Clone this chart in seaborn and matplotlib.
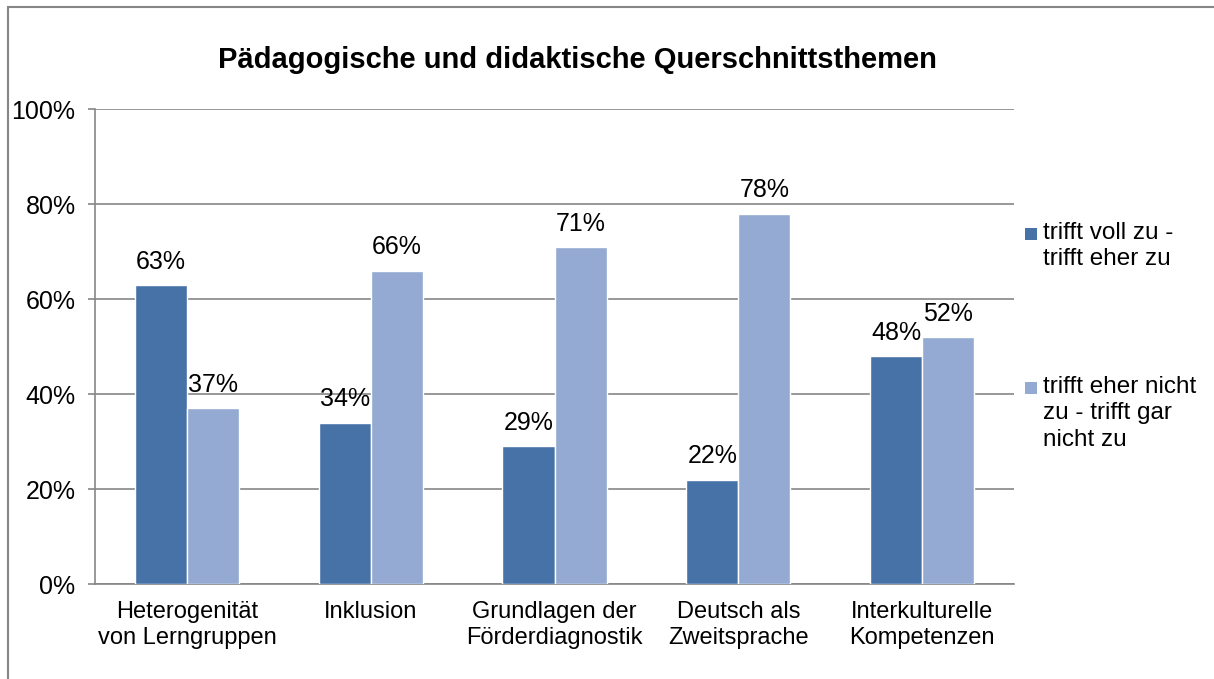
import pandas as pd
import numpy as np
import matplotlib
matplotlib.use("Agg")
import matplotlib.pyplot as plt
from matplotlib.patches import Rectangle
from matplotlib.ticker import FixedLocator, PercentFormatter
import seaborn as sns

# data
categories = [
    "Heterogenität\nvon Lerngruppen",
    "Inklusion",
    "Grundlagen der\nFörderdiagnostik",
    "Deutsch als\nZweitsprache",
    "Interkulturelle\nKompetenzen",
]
series_names = [
    "trifft voll zu -\ntrifft eher zu",
    "trifft eher nicht\nzu - trifft gar\nnicht zu",
]
agree = [63, 34, 29, 22, 48]
disagree = [37, 66, 71, 78, 52]

colors = ["#4672A8", "#94AAD2"]
grid_color = "#868686"

df = pd.DataFrame({
    "Thema": categories * 2,
    "Antwort": [series_names[0]] * len(categories) + [series_names[1]] * len(categories),
    "Anteil": agree + disagree,
})

sns.set_theme(style="white")
plt.rcParams["font.family"] = ["Liberation Sans", "DejaVu Sans"]
plt.rcParams["text.color"] = "black"

fig = plt.figure(figsize=(12.14, 6.79), dpi=100)
ax = fig.add_axes([95 / 1214, 1 - 584 / 679, 919 / 1214, 475 / 679])

sns.barplot(data=df, x="Thema", y="Anteil", hue="Antwort", palette=colors,
            width=0.566, gap=0, saturation=1, legend=False, ax=ax, zorder=3)

ax.set_ylim(0, 100)
ax.set_xlim(-0.5, len(categories) - 0.5)
ax.yaxis.set_major_locator(FixedLocator([0, 20, 40, 60, 80, 100]))
ax.yaxis.set_major_formatter(PercentFormatter(decimals=0))
ax.grid(axis="y", color=grid_color, linewidth=1.2, zorder=0)
ax.set_axisbelow(True)

# data labels
for cont in ax.containers:
    ax.bar_label(cont, fmt="%d%%", padding=8, fontsize=18, color="black")

ax.set_xlabel("")
ax.set_ylabel("")
for side in ["top", "right"]:
    ax.spines[side].set_visible(False)
for side in ["left", "bottom"]:
    ax.spines[side].set_color(grid_color)
    ax.spines[side].set_linewidth(1.2)

# category labels centered, tick marks at category boundaries
ax.set_xticks(range(len(categories)))
ax.set_xticklabels(categories, fontsize=17, linespacing=1.25)
ax.tick_params(axis="x", which="major", length=0, pad=12, labelcolor="black")
ax.set_xticks(np.arange(-0.5, len(categories)), minor=True)
ax.tick_params(axis="x", which="minor", length=6, width=1.2, color=grid_color, direction="out")
ax.tick_params(axis="y", length=5, width=1.2, color=grid_color, direction="out",
               labelsize=18, pad=9, labelcolor="black")
ax.tick_params(bottom=True, left=True)
ax.tick_params(axis="x", which="major", bottom=False)

fig.suptitle("Pädagogische und didaktische Querschnittsthemen", x=577 / 1214, y=1 - 60 / 679,
             va="center", fontsize=21, fontweight="bold", color="black")

# legend drawn by hand so the square sits next to the first line
legend_tops = [222, 376]
for name, col, top in zip(series_names, colors, legend_tops):
    fig.patches.append(Rectangle((1025 / 1214, 1 - (top + 18) / 679), 12 / 1214, 12 / 679,
                                 transform=fig.transFigure, facecolor=col, edgecolor="none"))
    fig.text(1043 / 1214, 1 - top / 679, name, fontsize=17.5, va="top", ha="left", linespacing=1.25)

# outer chart border (only left and top edges are inside the image)
fig.patches.append(Rectangle((8 / 1214, -0.05), 1.1, 1 - 7 / 679 + 0.05, transform=fig.transFigure,
                             fill=False, edgecolor=grid_color, linewidth=1.5))

fig.savefig("out.png", dpi=100)
